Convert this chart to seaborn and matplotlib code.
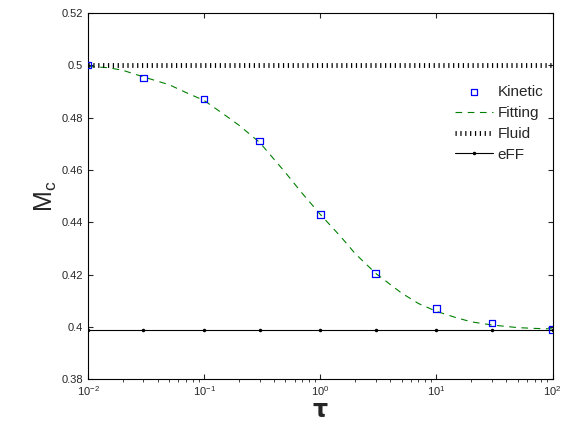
import matplotlib
matplotlib.use("Agg")
import matplotlib.pyplot as plt
import seaborn as sns
import pandas as pd

sns.set_style("ticks")
plt.rcParams["font.family"] = ["Liberation Sans", "DejaVu Sans"]

tau_kin = [0.01, 0.03, 0.1, 0.3, 1, 3, 10, 30, 100]
mc_kin = [0.5, 0.495, 0.487, 0.471, 0.443, 0.4205, 0.407, 0.4015, 0.399]

tau_fit = [0.01, 0.015, 0.02, 0.03, 0.05, 0.07, 0.1, 0.15, 0.2, 0.3, 0.5, 0.7, 1,
           1.5, 2, 3, 5, 7, 10, 15, 20, 30, 50, 70, 100]
mc_fit = [0.4995, 0.499, 0.498, 0.4955, 0.4925, 0.4895, 0.4865, 0.481, 0.477,
          0.4705, 0.459, 0.451, 0.443, 0.4345, 0.428, 0.4205, 0.413, 0.409,
          0.406, 0.4035, 0.402, 0.4008, 0.3998, 0.3995, 0.3993]

tau_eff = [0.01, 0.03, 0.1, 0.3, 1, 3, 10, 30, 100]
mc_eff = [0.399] * len(tau_eff)
mc_fluid = 0.5

fig, ax = plt.subplots(figsize=(5.61, 4.24), dpi=100)
kin = pd.DataFrame({"tau": tau_kin, "mc": mc_kin})
fit = pd.DataFrame({"tau": tau_fit, "mc": mc_fit})
eff = pd.DataFrame({"tau": tau_eff, "mc": mc_eff})

sns.scatterplot(data=kin, x="tau", y="mc", ax=ax, marker="s", s=22,
                facecolor="none", edgecolor="blue", linewidth=0.9, label="Kinetic", zorder=3)
sns.lineplot(data=fit, x="tau", y="mc", ax=ax, color="green", dashes=(6, 5),
             linewidth=0.8, label="Fitting")
ax.axhline(mc_fluid, color="black", linestyle=(0, (0.25, 0.75)), linewidth=3.5, label="Fluid")
ax.plot(eff["tau"], eff["mc"], color="black", linewidth=0.8, marker=".",
        markersize=3, label="eFF")

ax.set_xscale("log")
ax.set_xlim(0.01, 100)
ax.set_ylim(0.38, 0.52)
ax.set_yticks([0.38, 0.4, 0.42, 0.44, 0.46, 0.48, 0.5, 0.52])
ax.set_yticklabels(["0.38", "0.4", "0.42", "0.44", "0.46", "0.48", "0.5", "0.52"])
ax.tick_params(labelsize=8, direction="in", top=True, right=True)
for s in ax.spines.values():
    s.set_visible(True)
    s.set_color("black")
ax.set_xlabel(r"$\mathbf{\tau}$", fontsize=17, labelpad=1)
ax.set_ylabel(r"M$_\mathregular{c}$", fontsize=18, labelpad=2)
ax.legend(loc="upper right", bbox_to_anchor=(1.01, 0.84), frameon=False, fontsize=11,
          handlelength=2.5, labelspacing=0.45, handletextpad=0.3)
fig.subplots_adjust(left=0.157, right=0.985, top=0.97, bottom=0.105)
fig.savefig("out.png", dpi=100)
